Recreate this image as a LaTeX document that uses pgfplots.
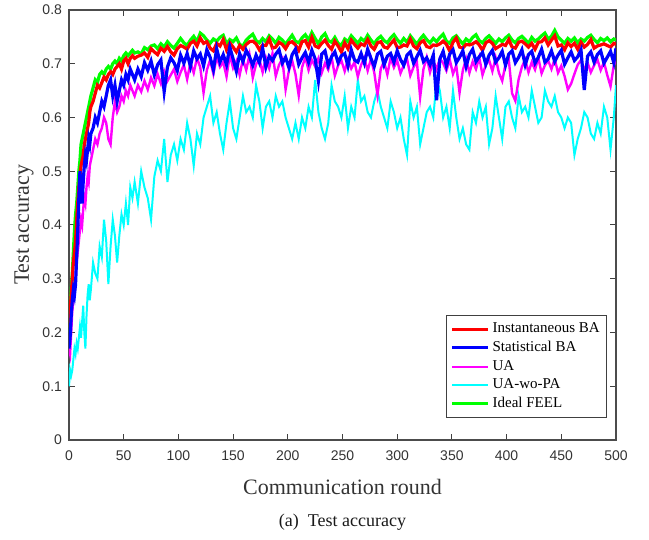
\documentclass[border=0pt]{standalone}
\usepackage{fontspec}
\setmainfont{Liberation Serif}
\setsansfont{Liberation Sans}
\usepackage{pgfplots}
\pgfplotsset{compat=1.18}
\usepackage{pgfplotstable}
\usetikzlibrary{calc}

\definecolor{mred}{RGB}{255,0,0}
\definecolor{mblue}{RGB}{0,0,255}
\definecolor{mmag}{RGB}{255,0,255}
\definecolor{mcyan}{RGB}{0,255,255}
\definecolor{mgreen}{RGB}{0,255,0}

% x = communication round; G = Ideal FEEL, R = Instantaneous BA,
% B = Statistical BA, M = UA, C = UA-wo-PA
\pgfplotstableread{
x G R B M C
0 0.20 0.21 0.17 0.17 0.10
1 0.25 0.24 0.19 0.16 0.13
2 0.28 0.27 0.23 0.20 0.12
3 0.31 0.30 0.26 0.24 0.13
4 0.35 0.33 0.28 0.26 0.15
5 0.39 0.35 0.27 0.27 0.17
6 0.42 0.37 0.29 0.30 0.16
7 0.44 0.41 0.34 0.33 0.18
8 0.47 0.44 0.39 0.35 0.17
9 0.50 0.47 0.45 0.37 0.19
10 0.52 0.49 0.50 0.39 0.21
11 0.55 0.51 0.47 0.41 0.19
12 0.56 0.52 0.44 0.40 0.22
13 0.57 0.53 0.48 0.43 0.25
14 0.58 0.55 0.51 0.45 0.20
15 0.59 0.56 0.53 0.44 0.17
16 0.60 0.57 0.52 0.47 0.23
17 0.61 0.58 0.54 0.49 0.27
18 0.62 0.59 0.56 0.48 0.29
19 0.63 0.61 0.55 0.51 0.26
20 0.64 0.62 0.57 0.52 0.28
22 0.655 0.63 0.58 0.54 0.33
24 0.67 0.645 0.60 0.56 0.31
26 0.665 0.66 0.59 0.55 0.30
28 0.68 0.655 0.61 0.57 0.36
30 0.685 0.665 0.63 0.58 0.34
32 0.68 0.675 0.62 0.60 0.41
34 0.69 0.67 0.64 0.59 0.37
36 0.695 0.68 0.66 0.56 0.29
38 0.69 0.685 0.67 0.55 0.36
40 0.70 0.68 0.64 0.60 0.41
42 0.705 0.69 0.66 0.63 0.38
44 0.70 0.695 0.63 0.61 0.33
46 0.71 0.70 0.65 0.62 0.38
48 0.705 0.69 0.67 0.64 0.42
50 0.715 0.705 0.66 0.63 0.40
52 0.72 0.71 0.68 0.65 0.44
54 0.715 0.70 0.67 0.64 0.40
56 0.72 0.71 0.69 0.66 0.47
58 0.725 0.715 0.68 0.65 0.45
60 0.72 0.71 0.67 0.64 0.48
63 0.722 0.714 0.690 0.660 0.44
66 0.718 0.716 0.676 0.648 0.50
69 0.730 0.720 0.702 0.668 0.47
72 0.726 0.712 0.688 0.652 0.45
75 0.733 0.728 0.705 0.674 0.41
78 0.735 0.722 0.679 0.659 0.49
81 0.728 0.717 0.698 0.681 0.52
84 0.737 0.729 0.707 0.663 0.50
87 0.731 0.723 0.648 0.686 0.56
90 0.741 0.732 0.694 0.668 0.48
93 0.734 0.722 0.711 0.679 0.53
96 0.729 0.716 0.702 0.690 0.55
99 0.738 0.728 0.687 0.667 0.52
102 0.747 0.734 0.716 0.684 0.56
105 0.739 0.731 0.701 0.698 0.54
108 0.734 0.727 0.719 0.671 0.59
111 0.744 0.738 0.695 0.702 0.56
114 0.751 0.742 0.724 0.683 0.51
117 0.741 0.733 0.709 0.711 0.57
120 0.757 0.748 0.718 0.693 0.55
123 0.752 0.738 0.696 0.646 0.60
126 0.744 0.741 0.726 0.688 0.62
129 0.738 0.729 0.712 0.707 0.64
132 0.746 0.724 0.689 0.681 0.59
135 0.742 0.738 0.728 0.712 0.61
138 0.749 0.733 0.703 0.694 0.57
141 0.753 0.745 0.717 0.703 0.54
144 0.737 0.726 0.698 0.676 0.59
147 0.745 0.739 0.731 0.716 0.63
150 0.741 0.731 0.709 0.692 0.58
153 0.748 0.722 0.686 0.705 0.56
156 0.736 0.734 0.719 0.679 0.60
159 0.733 0.727 0.704 0.709 0.64
162 0.744 0.736 0.725 0.688 0.61
165 0.750 0.741 0.713 0.717 0.62
168 0.755 0.742 0.697 0.674 0.60
171 0.743 0.737 0.716 0.699 0.66
174 0.739 0.726 0.702 0.708 0.63
177 0.747 0.735 0.729 0.684 0.58
180 0.741 0.734 0.694 0.711 0.62
183 0.752 0.746 0.714 0.692 0.63
186 0.746 0.729 0.706 0.719 0.60
189 0.738 0.731 0.718 0.677 0.64
192 0.749 0.740 0.726 0.698 0.62
195 0.744 0.736 0.701 0.709 0.63
198 0.736 0.728 0.712 0.652 0.60
201 0.745 0.739 0.693 0.687 0.58
204 0.753 0.741 0.717 0.706 0.56
207 0.742 0.735 0.727 0.681 0.59
210 0.739 0.725 0.699 0.641 0.56
213 0.748 0.741 0.711 0.693 0.60
216 0.754 0.743 0.721 0.712 0.58
219 0.744 0.731 0.703 0.688 0.62
222 0.758 0.749 0.725 0.707 0.60
225 0.747 0.733 0.709 0.695 0.67
228 0.737 0.730 0.668 0.710 0.61
231 0.750 0.738 0.718 0.683 0.58
234 0.756 0.744 0.724 0.701 0.56
237 0.743 0.734 0.697 0.689 0.59
240 0.740 0.727 0.713 0.713 0.66
243 0.749 0.742 0.722 0.678 0.63
246 0.738 0.733 0.702 0.697 0.62
249 0.734 0.722 0.715 0.706 0.60
252 0.746 0.739 0.719 0.686 0.64
255 0.741 0.728 0.696 0.708 0.58
258 0.752 0.744 0.726 0.691 0.62
261 0.745 0.736 0.707 0.703 0.60
264 0.738 0.729 0.703 0.676 0.67
267 0.747 0.737 0.719 0.698 0.63
270 0.742 0.734 0.701 0.711 0.64
273 0.753 0.745 0.727 0.687 0.61
276 0.744 0.733 0.710 0.709 0.60
279 0.737 0.727 0.695 0.684 0.63
282 0.746 0.739 0.718 0.642 0.65
285 0.751 0.741 0.723 0.691 0.62
288 0.743 0.731 0.698 0.704 0.60
291 0.739 0.729 0.714 0.680 0.58
294 0.748 0.737 0.719 0.711 0.63
297 0.754 0.744 0.703 0.693 0.61
300 0.745 0.730 0.724 0.706 0.58
303 0.738 0.731 0.708 0.682 0.60
306 0.747 0.735 0.697 0.697 0.56
309 0.740 0.733 0.716 0.709 0.53
312 0.752 0.746 0.722 0.678 0.63
315 0.744 0.733 0.701 0.694 0.60
318 0.736 0.728 0.713 0.703 0.62
321 0.746 0.739 0.725 0.638 0.55
324 0.753 0.743 0.704 0.690 0.58
327 0.745 0.732 0.711 0.712 0.61
330 0.739 0.730 0.698 0.684 0.62
333 0.747 0.735 0.716 0.706 0.60
336 0.741 0.734 0.632 0.689 0.67
339 0.749 0.737 0.709 0.710 0.65
342 0.755 0.742 0.723 0.701 0.60
345 0.742 0.736 0.696 0.687 0.62
348 0.738 0.724 0.718 0.708 0.58
351 0.748 0.740 0.726 0.681 0.65
354 0.752 0.748 0.702 0.697 0.60
357 0.744 0.731 0.712 0.646 0.56
360 0.737 0.729 0.724 0.688 0.58
363 0.746 0.736 0.695 0.709 0.55
366 0.741 0.735 0.717 0.683 0.54
369 0.749 0.737 0.727 0.704 0.61
372 0.754 0.741 0.704 0.690 0.59
375 0.743 0.735 0.713 0.712 0.63
378 0.739 0.725 0.721 0.679 0.60
381 0.747 0.739 0.699 0.698 0.62
384 0.752 0.743 0.716 0.707 0.55
387 0.745 0.738 0.725 0.686 0.58
390 0.738 0.728 0.703 0.711 0.64
393 0.746 0.732 0.711 0.683 0.60
396 0.741 0.736 0.723 0.668 0.56
399 0.748 0.734 0.697 0.699 0.62
402 0.753 0.745 0.718 0.708 0.63
405 0.744 0.731 0.724 0.645 0.60
408 0.739 0.729 0.702 0.631 0.58
411 0.747 0.740 0.712 0.671 0.64
414 0.751 0.742 0.726 0.694 0.61
417 0.745 0.737 0.698 0.708 0.62
420 0.738 0.731 0.717 0.684 0.60
423 0.749 0.738 0.723 0.703 0.65
426 0.742 0.727 0.701 0.689 0.62
429 0.746 0.740 0.712 0.711 0.59
432 0.752 0.741 0.727 0.682 0.60
435 0.757 0.748 0.703 0.697 0.65
438 0.746 0.735 0.709 0.706 0.63
441 0.751 0.744 0.724 0.690 0.62
444 0.762 0.752 0.704 0.709 0.64
447 0.750 0.733 0.716 0.683 0.61
450 0.744 0.735 0.725 0.696 0.60
453 0.738 0.726 0.699 0.677 0.58
456 0.747 0.739 0.711 0.652 0.60
459 0.742 0.732 0.722 0.663 0.59
462 0.748 0.738 0.706 0.681 0.53
465 0.739 0.727 0.713 0.698 0.56
468 0.746 0.740 0.726 0.707 0.58
471 0.742 0.731 0.651 0.689 0.61
474 0.749 0.736 0.714 0.702 0.60
477 0.753 0.745 0.722 0.684 0.57
480 0.745 0.729 0.703 0.697 0.56
483 0.739 0.733 0.717 0.708 0.59
486 0.747 0.735 0.724 0.688 0.57
489 0.743 0.737 0.701 0.703 0.62
492 0.748 0.734 0.712 0.679 0.60
495 0.741 0.731 0.723 0.658 0.54
498 0.746 0.738 0.702 0.697 0.60
500 0.744 0.736 0.729 0.706 0.66
}\acc

\begin{document}
\begin{tikzpicture}
\begin{axis}[
  name=ax, at={(0,0)}, anchor=south west,
  scale only axis, width=273.5pt, height=215pt,
  xmin=0, xmax=500, ymin=0, ymax=0.8,
  xtick={0,50,100,150,200,250,300,350,400,450,500},
  ytick={0,0.1,0.2,0.3,0.4,0.5,0.6,0.7,0.8},
  yticklabel style={/pgf/number format/.cd, fixed, precision=1},
  /pgf/number format/assume math mode=true,
  tick label style={font=\sffamily\fontsize{7}{8}\selectfont, text=black!80},
  xticklabel style={yshift=-2pt},
  tick align=inside, tick pos=both,
  major tick length=3pt,
  tick style={black!75, line width=0.5pt},
  axis line style={black!70, line width=0.6pt},
  xlabel={Communication round},
  ylabel={Test accuracy},
  label style={font=\fontsize{11}{13}\selectfont, text=black!80},
  xlabel style={at={(axis description cs:0.5,-0.1093)}, anchor=center},
  ylabel style={at={(axis description cs:-0.0823,0.5)}, anchor=center},
  legend style={at={(axis description cs:0.9835,0.0512)}, anchor=south east,
    font=\fontsize{7.5}{9}\selectfont, draw=black!75, line width=0.5pt,
    inner sep=2pt, row sep=0pt,
    nodes={inner sep=1.4pt}, cells={anchor=west}},
  legend image code/.code={\draw[#1] (0pt,0pt) -- (18pt,0pt);},
]
\addlegendimage{mred, line width=1.5pt}
\addlegendentry{Instantaneous BA}
\addlegendimage{mblue, line width=1.5pt}
\addlegendentry{Statistical BA}
\addlegendimage{mmag, line width=1.2pt}
\addlegendentry{UA}
\addlegendimage{mcyan, line width=1.2pt}
\addlegendentry{UA-wo-PA}
\addlegendimage{mgreen, line width=1.5pt}
\addlegendentry{Ideal FEEL}

\addplot[mgreen, line width=1.6pt, forget plot] table[x=x, y=G] {\acc};
\addplot[mred, line width=1.6pt, forget plot] table[x=x, y=R] {\acc};
\addplot[mcyan, line width=1.0pt, forget plot] table[x=x, y=C] {\acc};
\addplot[mmag, line width=1.2pt, forget plot] table[x=x, y=M] {\acc};
\addplot[mblue, line width=1.6pt, forget plot] table[x=x, y=B] {\acc};
\end{axis}
\node[font=\fontsize{9}{11}\selectfont, text=black!90] at ($(ax.south)+(0,-41pt)$) {(a)\hspace{0.5em}Test accuracy};
\pgfresetboundingbox
\path[use as bounding box] ($(ax.south west)+(-34.5pt,-50pt)$) rectangle ($(ax.north east)+(16.5pt,5pt)$);
\end{tikzpicture}
\end{document}
